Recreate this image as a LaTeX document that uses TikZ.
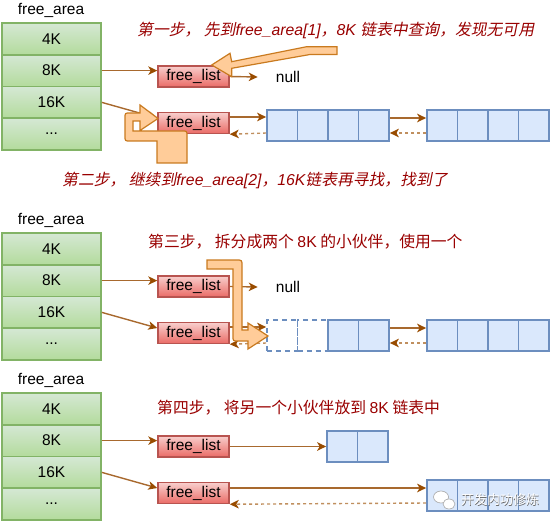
\documentclass[tikz,border=0pt]{standalone}
\usepackage{fontspec}
\setmainfont{Liberation Sans}
\newfontfamily\cjk{Noto Sans CJK SC}
\newfontfamily\cjksl{Noto Sans CJK SC}[FakeSlant=0.2]
\newcommand\myit[1]{{\rmfamily\itshape #1}}
\newcommand\myrm[1]{{\rmfamily #1}}
\usetikzlibrary{arrows.meta}
\definecolor{gstroke}{HTML}{82B366}
\definecolor{gtop}{HTML}{D5E8D4}
\definecolor{gbot}{HTML}{B3DB9C}
\definecolor{rstroke}{HTML}{B85450}
\definecolor{rtop}{HTML}{F8CECC}
\definecolor{rbot}{HTML}{EA6B66}
\definecolor{bfill}{HTML}{DAE8FC}
\definecolor{bstroke}{HTML}{6C8EBF}
\definecolor{notec}{HTML}{990000}
\definecolor{lnk}{HTML}{A8692E}
\definecolor{lnkb}{HTML}{C08F5E}
\definecolor{arrowc}{HTML}{994C00}
\definecolor{ofill}{HTML}{FFCC99}
\definecolor{ostroke}{HTML}{C97A1F}
\tikzset{
  lbl/.style={font=\fontsize{15.5}{18}\selectfont, inner sep=0},
  row/.style={draw=gstroke, line width=1.7pt, top color=gtop, bottom color=gbot,
    minimum width=99pt, minimum height=31.75pt, inner sep=0, font=\fontsize{15.5}{18}\selectfont},
  fl/.style={draw=rstroke, line width=1.5pt, top color=rtop, bottom color=rbot,
    minimum width=71pt, minimum height=21pt, inner sep=0, font=\fontsize{15.5}{18}\selectfont},
  cell/.style={draw=bstroke, fill=bfill, line width=1.7pt, minimum size=30.5pt, inner sep=0},
  dcell/.style={draw=bstroke, dash pattern=on 5pt off 4pt, line width=1.7pt, minimum size=30.5pt, inner sep=0},
  link/.style={draw=lnk, line width=1.4pt, -{Stealth[length=9pt,width=8.5pt,inset=2.5pt,color=arrowc]}},
  back/.style={draw=lnkb, line width=1.4pt, dash pattern=on 3pt off 3pt, -{Stealth[length=9pt,width=8.5pt,inset=2.5pt,color=arrowc]}},
  note/.style={text=notec, font=\fontsize{15.8}{18}\selectfont, inner sep=0, anchor=west},
  bigarrow/.style={draw=ostroke, fill=ofill, line width=1.2pt, line join=miter},
}
\begin{document}
\begin{tikzpicture}[x=1pt,y=-1pt]
\useasboundingbox (0,0) rectangle (556,529);

% common parts of the three sections
\foreach \p/\o in {A/0,B/210,C/370}{
  \begin{scope}[yshift=-\o pt]
    \node[lbl] (\p fa) at (51,10) {free\_area};
    \node[row] (\p r4) at (51.5,38.9) {4K};
    \node[row] (\p r8) at (51.5,70.6) {8K};
    \node[row] (\p r16) at (51.5,102.4) {16K};
    \node[row] (\p rd) at (51.5,134.1) {...};
    \node[fl] (\p f1) at (193.5,76.5) {free\_list};
    \node[fl] (\p f2) at (193.5,123) {free\_list};
    \draw[link] (\p r8.east) -- (\p r8.east -| \p f1.west);
    \draw[link] (\p r16.east) -- ([yshift=5pt]\p f2.west);
  \end{scope}
}

% ---------- section A ----------
\node[lbl] (Anull) at (288,77) {null};
\foreach \i/\x in {1/282.25,2/312.75,3/343.25,4/373.75}{\node[cell] (Aa\i) at (\x,125.5) {};}
\foreach \i/\x in {1/442.25,2/472.75,3/503.25,4/533.75}{\node[cell] (Ab\i) at (\x,125.5) {};}
\draw[link] (Af1.east) -- ([xshift=-18pt]Anull.west);
\draw[link] ([yshift=6pt]Af2.east) -- ([yshift=8.5pt]Aa1.west);
\draw[back] ([yshift=-7.5pt]Aa1.west) -- (Af2.south east);
\draw[link] ([yshift=7.5pt]Aa4.east) -- ([yshift=7.5pt]Ab1.west);
\draw[back] ([yshift=-7.5pt]Ab1.west) -- ([yshift=-7.5pt]Aa4.east);

\node[note] (t1) at (137,30) {\cjksl 第一步，\ 先到\myit{free\_area[1]}，\myit{8K }链表中查询，发现无可用};
\node[note] (t2) at (62,180) {\cjksl 第二步，\ 继续到\myit{free\_area[2]}，\myit{16K}链表再寻找，找到了};

% ---------- section B ----------
\node[lbl] (Bnull) at (288,287) {null};
\node[dcell] (Ba1) at (282.25,335.5) {};
\node[dcell] (Ba2) at (312.75,335.5) {};
\node[cell] (Ba3) at (343.25,335.5) {};
\node[cell] (Ba4) at (373.75,335.5) {};
\foreach \i/\x in {1/442.25,2/472.75,3/503.25,4/533.75}{\node[cell] (Bb\i) at (\x,335.5) {};}
\draw[link] (Bf1.east) -- ([xshift=-18pt]Bnull.west);
\draw[link] ([yshift=6pt]Bf2.east) -- ([yshift=8.5pt]Ba1.west);
\draw[back] ([yshift=-7.5pt]Ba1.west) -- (Bf2.south east);
\draw[link] ([yshift=7.5pt]Ba4.east) -- ([yshift=7.5pt]Bb1.west);
\draw[back] ([yshift=-7.5pt]Bb1.west) -- ([yshift=-7.5pt]Ba4.east);

\node[note] (t3) at (148,242) {\cjk 第三步，\ 拆分成两个 \myrm{8K} 的小伙伴，使用一个};

% ---------- section C ----------
\node[cell] (Cc1) at (342.25,446.5) {};
\node[cell] (Cc2) at (372.75,446.5) {};
\foreach \i/\x in {1/442.25,2/472.75,3/503.25,4/533.75}{\node[cell] (Cb\i) at (\x,495.5) {};}
\draw[link] (Cf1.east) -- (Cc1.west);
\draw[link] ([yshift=5pt]Cf2.east) -- ([yshift=7.5pt]Cb1.west);
\draw[back] ([yshift=-7.5pt]Cb1.west) -- (Cf2.south east);

\node[note] (t4) at (157,408) {\cjk 第四步，\ 将另一个小伙伴放到 \myrm{8K} 链表中};

% ---------- big orange arrows ----------
\path[bigarrow] (337,46.7) -- (306.7,46.7) -- (231.7,61.7) -- (230,53.3) -- (211.7,65)
  -- (231.7,76.7) -- (231.7,68.3) -- (310,54.5) -- (337,54.5) -- cycle;

\path[bigarrow] (158,118.5) -- (140,105) -- (140,113) -- (130,113) .. controls (125,113) .. (125,118)
  -- (125,136) .. controls (125,141) .. (130,141) -- (157,141) -- (157,163) -- (187,163)
  -- (187,136) .. controls (187,131) .. (182,131) -- (133,131) -- (133,121) -- (140,121)
  -- (140,130.5) -- cycle;

\path[bigarrow] (207,260) -- (236,260) .. controls (242,260) .. (242,266) -- (242,330)
  -- (248,330) -- (248,323) -- (268,336) -- (248,349) -- (248,341) -- (238,341)
  .. controls (233,341) .. (233,336) -- (233,269) -- (207,269) -- cycle;

% ---------- watermark ----------
\path[fill=white, draw=gray!70, line width=0.6pt] (441,497) ellipse [x radius=7.5pt, y radius=6pt];
\path[fill=white, draw=gray!70, line width=0.6pt] (449,504) ellipse [x radius=6pt, y radius=5pt];
\node[font=\cjk\fontsize{13}{15}\selectfont, text=gray!80!black] (wms) at (500.6,500.6) {开发内功修炼};
\node[font=\cjk\fontsize{13}{15}\selectfont, text=white] (wm) at (500,500) {开发内功修炼};
\end{tikzpicture}
\end{document}
